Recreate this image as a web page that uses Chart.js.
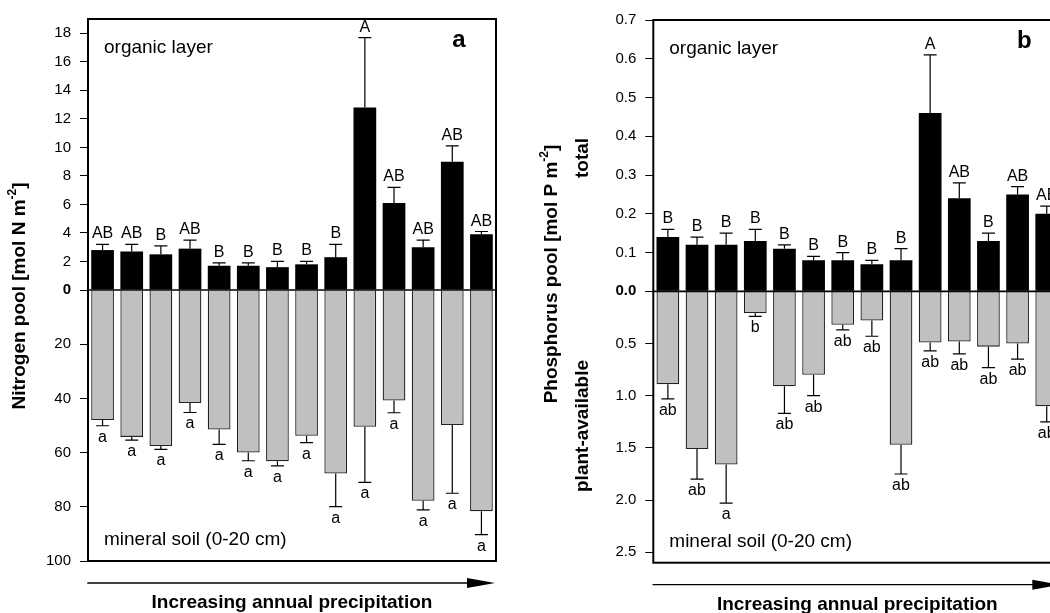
<!DOCTYPE html>
<html><head><meta charset="utf-8">
<script src="https://cdn.jsdelivr.net/npm/chart.js@4/dist/chart.umd.min.js"></script>
<style>
html,body{margin:0;padding:0;background:#fff;overflow:hidden;width:1050px;height:613px;position:relative;}
#ca{position:absolute;left:0;top:0;}
#cb{position:absolute;left:530px;top:0;}
</style></head><body>
<canvas id="ca" width="530" height="613"></canvas>
<canvas id="cb" width="560" height="613"></canvas>
<script>
// ---- data ----
const sites = ['1','2','3','4','5','6','7','8','9','10','11','12','13','14'];

const nOrganic      = [2.8, 2.7, 2.5, 2.9, 1.7, 1.7, 1.6, 1.8, 2.3, 12.8, 6.1, 3.0, 9.0, 3.9];
const nOrganicSE    = [0.4, 0.5, 0.6, 0.6, 0.2, 0.2, 0.4, 0.2, 0.9, 4.9, 1.1, 0.5, 1.1, 0.2];
const nOrganicLet   = ['AB','AB','B','AB','B','B','B','B','B','A','AB','AB','AB','AB'];
const nMineral      = [48.0, 54.2, 57.6, 41.7, 51.5, 60.0, 63.2, 53.8, 67.7, 50.5, 40.8, 77.8, 49.8, 81.6];
const nMineralSE    = [2.1, 1.2, 1.2, 3.5, 5.5, 3.0, 1.7, 2.5, 12.2, 20.5, 4.5, 3.3, 25.2, 8.7];
const nMineralLet   = ['a','a','a','a','a','a','a','a','a','a','a','a','a','a'];
const nTopTicks = {min:0, max:19, step:2};
const nBotTicks = {min:0, max:100, step:20};

const pOrganic      = [0.14, 0.12, 0.12, 0.13, 0.11, 0.08, 0.08, 0.07, 0.08, 0.46, 0.24, 0.13, 0.25, 0.20];
const pOrganicSE    = [0.02, 0.02, 0.03, 0.03, 0.01, 0.01, 0.02, 0.01, 0.03, 0.15, 0.04, 0.02, 0.02, 0.02];
const pOrganicLet   = ['B','B','B','B','B','B','B','B','B','A','AB','B','AB','AB'];
const pMineral      = [0.89, 1.51, 1.66, 0.21, 0.91, 0.80, 0.32, 0.28, 1.47, 0.49, 0.48, 0.53, 0.50, 1.10];
const pMineralSE    = [0.14, 0.29, 0.37, 0.03, 0.26, 0.20, 0.05, 0.15, 0.28, 0.08, 0.12, 0.20, 0.15, 0.15];
const pMineralLet   = ['ab','ab','a','b','ab','ab','ab','ab','ab','ab','ab','ab','ab','ab'];
const pTopTicks = {min:0, max:0.7, step:0.1};
const pBotTicks = {min:0, max:2.6, step:0.5};

const FAM = '"Liberation Sans", Arial, Helvetica, sans-serif';

// ---- plugins ----
const errPlugin = {
  id: 'errbars',
  afterDatasetsDraw(chart) {
    const ctx = chart.ctx;
    chart.data.datasets.forEach((ds, di) => {
      const meta = chart.getDatasetMeta(di);
      const sc = chart.scales[ds.yAxisID];
      meta.data.forEach((el, i) => {
        const v = ds.data[i], e = ds.err[i];
        const yEnd = sc.getPixelForValue(v + e);
        const x = el.x;
        ctx.save();
        ctx.strokeStyle = '#000'; ctx.lineWidth = 1.2;
        ctx.beginPath();
        ctx.moveTo(x, el.y); ctx.lineTo(x, yEnd);
        ctx.moveTo(x - 6.5, yEnd); ctx.lineTo(x + 6.5, yEnd);
        ctx.stroke();
        ctx.fillStyle = '#000';
        ctx.font = '16px ' + FAM;
        ctx.textAlign = 'center';
        ctx.textBaseline = 'alphabetic';
        const up = ds.yAxisID === 'yTop';
        ctx.fillText(ds.letters[i], x, up ? yEnd - 6 : yEnd + 16);
        ctx.restore();
      });
    });
  }
};

function rotTitle(ctx, x, y, parts, size) {
  ctx.save();
  ctx.translate(x, y);
  ctx.rotate(-Math.PI / 2);
  ctx.fillStyle = '#000';
  ctx.textBaseline = 'middle';
  ctx.textAlign = 'left';
  const fMain = 'bold ' + size + 'px ' + FAM;
  const fSup = 'bold ' + Math.round(size * 0.65) + 'px ' + FAM;
  let w = 0;
  parts.forEach(p => { ctx.font = p.sup ? fSup : fMain; w += ctx.measureText(p.t).width; });
  let cx = -w / 2;
  parts.forEach(p => {
    ctx.font = p.sup ? fSup : fMain;
    ctx.fillText(p.t, cx, p.sup ? -size * 0.38 : 0);
    cx += ctx.measureText(p.t).width;
  });
  ctx.restore();
}

const decoPlugin = {
  id: 'deco',
  afterDraw(chart) {
    const ctx = chart.ctx;
    const a = chart.chartArea;
    const o = chart.options.plugins.deco;
    ctx.save();
    // frame
    ctx.strokeStyle = '#000';
    ctx.lineWidth = 2;
    ctx.strokeRect(a.left, a.top, a.right - a.left, a.bottom - a.top);
    // zero line
    const y0 = chart.scales.yTop.getPixelForValue(0);
    ctx.lineWidth = 1.6;
    ctx.beginPath(); ctx.moveTo(a.left, y0); ctx.lineTo(a.right, y0); ctx.stroke();
    // annotations
    ctx.fillStyle = '#000';
    ctx.textBaseline = 'alphabetic';
    ctx.textAlign = 'left';
    ctx.font = '19px ' + FAM;
    ctx.fillText('organic layer', a.left + 16, a.top + 33.5);
    ctx.fillText('mineral soil (0-20 cm)', a.left + 16, a.bottom - 16);
    ctx.textAlign = 'center';
    ctx.font = 'bold 24px ' + FAM;
    ctx.fillText(o.letter, a.right - 37, a.top + 27.5);
    // arrow
    const ya = a.bottom + 22;
    ctx.lineWidth = 1.3;
    ctx.beginPath(); ctx.moveTo(a.left - 0.7, ya); ctx.lineTo(a.right - 20, ya); ctx.stroke();
    ctx.beginPath();
    ctx.moveTo(a.right - 29, ya - 5); ctx.lineTo(a.right - 1, ya); ctx.lineTo(a.right - 29, ya + 5);
    ctx.closePath(); ctx.fill();
    ctx.font = 'bold 19px ' + FAM;
    ctx.textAlign = 'center';
    ctx.fillText('Increasing annual precipitation', (a.left + a.right) / 2, a.bottom + 47);
    ctx.restore();
    // y titles
    o.titles.forEach(t => rotTitle(ctx, t.x, t.y, t.parts, t.size));
  }
};

function tickFont(ctx) {
  return {family: FAM, size: 15, weight: (ctx.tick && ctx.tick.value === 0) ? 'bold' : 'normal'};
}

function keepSteps(step) {
  return s => {
    s.ticks = s.ticks.filter(t => {
      const q = t.value / step;
      return Math.abs(q - Math.round(q)) < 1e-6;
    });
  };
}

function makeChart(id, cfg) {
  const gridOpt = {display: true, drawOnChartArea: false, drawTicks: true, tickLength: 8, color: '#000', lineWidth: 1};
  return new Chart(document.getElementById(id), {
    type: 'bar',
    data: {
      labels: sites,
      datasets: [
        {label: 'organic layer', data: cfg.top, err: cfg.topSE, letters: cfg.topLet, yAxisID: 'yTop',
         backgroundColor: '#000', borderWidth: 0, grouped: false, barPercentage: 0.78, categoryPercentage: 1},
        {label: 'mineral soil', data: cfg.bot, err: cfg.botSE, letters: cfg.botLet, yAxisID: 'yBot',
         backgroundColor: '#c0c0c0', borderColor: '#222', borderWidth: 1.3, grouped: false, barPercentage: 0.78, categoryPercentage: 1}
      ]
    },
    options: {
      responsive: false, animation: false, devicePixelRatio: 1,
      layout: {padding: cfg.pad},
      plugins: {legend: {display: false}, tooltip: {enabled: false}, deco: {letter: cfg.letter, titles: cfg.titles}},
      scales: {
        x: {type: 'category', display: false, offset: true},
        yBot: {
          type: 'linear', position: 'left', stack: 'p', stackWeight: 1, bounds: 'data', reverse: true,
          min: cfg.bt.min, max: cfg.bt.max,
          afterFit: s => { s.width = cfg.axisW; },
          afterBuildTicks: keepSteps(cfg.bt.step),
          grid: gridOpt,
          border: {display: false},
          ticks: {stepSize: cfg.bt.step, autoSkip: false, color: '#000', padding: 9, font: tickFont,
                  callback: v => (v === 0 ? '' : cfg.fmt(v))}
        },
        yTop: {
          type: 'linear', position: 'left', stack: 'p', stackWeight: 1, bounds: 'data',
          min: cfg.tt.min, max: cfg.tt.max,
          afterFit: s => { s.width = cfg.axisW; },
          afterBuildTicks: keepSteps(cfg.tt.step),
          grid: gridOpt,
          border: {display: false},
          ticks: {stepSize: cfg.tt.step, autoSkip: false, color: '#000', padding: 9, font: tickFont,
                  callback: v => cfg.fmt(v)}
        }
      }
    },
    plugins: [errPlugin, decoPlugin]
  });
}

makeChart('ca', {
  top: nOrganic, topSE: nOrganicSE, topLet: nOrganicLet,
  bot: nMineral, botSE: nMineralSE, botLet: nMineralLet,
  tt: nTopTicks, bt: nBotTicks, fmt: v => String(Math.round(v)),
  axisW: 88, pad: {left: 0, top: 19, right: 34, bottom: 52}, letter: 'a',
  titles: [{x: 20, y: 296, size: 19, parts: [{t: 'Nitrogen pool [mol N m'}, {t: '-2', sup: true}, {t: ']'}]}]
});

makeChart('cb', {
  top: pOrganic, topSE: pOrganicSE, topLet: pOrganicLet,
  bot: pMineral, botSE: pMineralSE, botLet: pMineralLet,
  tt: pTopTicks, bt: pBotTicks, fmt: v => v.toFixed(1),
  axisW: 123.3, pad: {left: 0, top: 20, right: 560 - 531.3, bottom: 613 - 562.7}, letter: 'b',
  titles: [
    {x: 21.7, y: 274, size: 19, parts: [{t: 'Phosphorus pool [mol P m'}, {t: '-2', sup: true}, {t: ']'}]},
    {x: 53, y: 158, size: 19, parts: [{t: 'total'}]},
    {x: 53, y: 426, size: 19, parts: [{t: 'plant-available'}]}
  ]
});
</script>
</body></html>
